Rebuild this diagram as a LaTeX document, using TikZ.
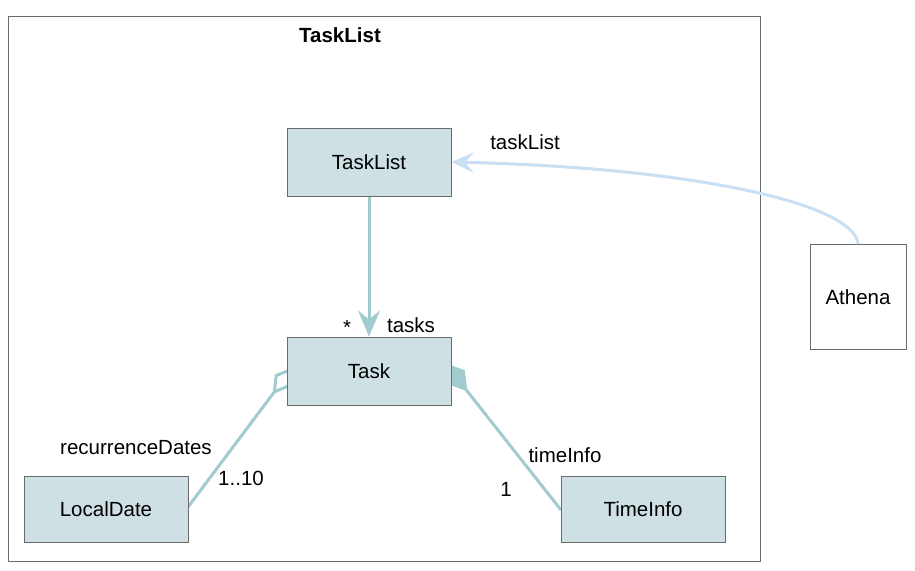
\documentclass[tikz,border=0pt]{standalone}
\usepackage{fontspec}
\setmainfont{Liberation Sans}
\usetikzlibrary{arrows.meta}
\definecolor{boxfill}{HTML}{CEE0E4}
\definecolor{boxline}{HTML}{6B6B6B}
\definecolor{conn}{HTML}{A0CBCF}
\definecolor{dep}{HTML}{C9DFF3}
\begin{document}
\begin{tikzpicture}[x=1pt,y=-1pt,
  every node/.style={font=\fontsize{20.5}{24}\selectfont, inner sep=0pt},
  cls/.style={draw=boxline, line width=1pt, fill=boxfill, minimum width=164pt, minimum height=68pt},
  plain/.style={draw=boxline, line width=1pt, fill=white, minimum width=96pt, minimum height=105pt},
  lbl/.style={font=\fontsize{20.5}{24}\selectfont},
  assoc/.style={draw=conn, line width=3pt},
]
\useasboundingbox (0,0) rectangle (915,570);
\fill[white] (0,0) rectangle (915,570);
% package frame
\node[draw=boxline, line width=1pt, minimum width=752pt, minimum height=545pt, anchor=north west] (pkg) at (8,16) {};
\node[font=\bfseries\fontsize{20.5}{24}\selectfont] (title) at (340,35) {TaskList};
% anchors for connector ends hidden under boxes
\coordinate (ldend) at (293,367);
\coordinate (tiend) at (445,363);
% connectors first
\draw[assoc, -{Diamond[open, fill=white, length=34pt, width=20pt, line width=3pt]}] (188,507) -- (ldend);
\draw[assoc, -{Diamond[length=36pt, width=22pt]}] (561,510) -- (tiend);
% boxes
\node[cls] (tasklist) at (369,162) {TaskList};
\node[cls] (task) at (369,371) {Task};
\node[cls, minimum height=66pt] (localdate) at (106,509) {LocalDate};
\node[cls, minimum height=66pt] (timeinfo) at (643,509) {TimeInfo};
\node[plain] (athena) at (858,297) {Athena};
% composition arrow
\draw[assoc, -{Stealth[length=26pt, width=22pt, inset=9pt]}] (tasklist.south) -- (task.north);
% dependency from Athena
\draw[draw=dep, line width=3pt, -{Stealth[length=22pt, width=20pt, inset=8pt]}]
  (athena.north) .. controls (855,205) and (700,168) .. (tasklist.east);
% labels
\node[lbl] (star) at (347,327) {*};
\node[lbl] (tasks) at (411,325) {tasks};
\node[lbl] (tl) at (525,142) {taskList};
\node[lbl] (rd) at (136,448) {recurrenceDates};
\node[lbl] (mult) at (241,478) {1..10};
\node[lbl] (ti) at (565,455) {timeInfo};
\node[lbl] (one) at (506,489) {1};
\end{tikzpicture}
\end{document}
